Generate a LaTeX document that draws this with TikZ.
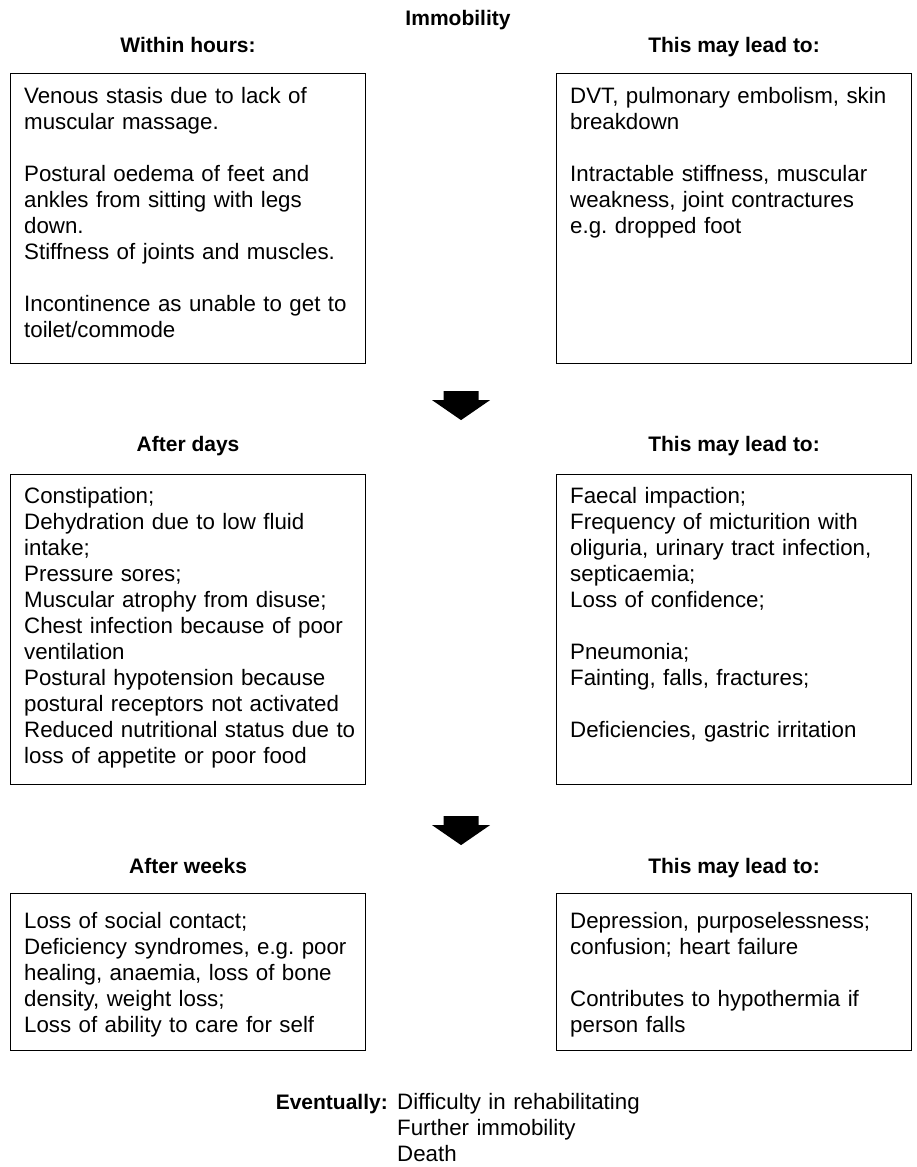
\documentclass[tikz,border=0pt]{standalone}
\usepackage{fontspec}
\setmainfont{Liberation Sans}
\usetikzlibrary{calc}
\frenchspacing

\tikzset{
  panel/.style={draw=black, line width=1.1pt, rectangle, inner sep=0pt,
    anchor=north west, minimum width=355pt},
  paneltext/.style={anchor=base west, inner sep=0pt, text width=345pt,
    align=left, font=\fontsize{22.3}{26}\selectfont\frenchspacing},
  heading/.style={inner sep=0pt, anchor=base,
    font=\fontsize{21}{24}\selectfont\bfseries},
  blockarrow/.pic={
    \fill[black] (-17.5,0) -- (17.5,0) -- (17.5,9) -- (29,9) -- (0,29)
      -- (-29,9) -- (-17.5,9) -- cycle;
  }
}

\begin{document}
\begin{tikzpicture}[x=1pt,y=-1pt]
\useasboundingbox (0,0) rectangle (916,1167);

% title
\node[heading] (hImm) at (458,25) {Immobility};

% ---- row 1: within hours ----
\node[panel, minimum height=290pt] (bHours) at (10,73) {};
\node[panel, minimum height=290pt] (bLeadA) at (556,73) {};
\node[heading] (hHours) at ($(bHours.north)+(0,-21)$) {Within hours:};
\node[heading] (hLeadA) at ($(bLeadA.north)+(0,-21)$) {This may lead to:};
\node[paneltext] (tHours) at ($(bHours.north west)+(14,30)$) {Venous stasis due to lack of\\
muscular massage.\\[26pt]
Postural oedema of feet and\\
ankles from sitting with legs\\
down.\\
Stiffness of joints and muscles.\\[26pt]
Incontinence as unable to get to\\
toilet/commode};
\node[paneltext] (tLeadA) at ($(bLeadA.north west)+(14,30)$) {DVT, pulmonary embolism, skin\\
breakdown\\[26pt]
Intractable stiffness, muscular\\
weakness, joint contractures\\
e.g. dropped foot};

\pic at ($($(bHours.south east)!0.5!(bLeadA.south west)$)+(0,27)$) {blockarrow};

% ---- row 2: after days ----
\node[panel, minimum height=310pt] (bDays) at (10,474) {};
\node[panel, minimum height=310pt] (bLeadB) at (556,474) {};
\node[heading] (hDays) at ($(bDays.north)+(0,-23)$) {After days};
\node[heading] (hLeadB) at ($(bLeadB.north)+(0,-23)$) {This may lead to:};
\node[paneltext] (tDays) at ($(bDays.north west)+(14,29)$) {Constipation;\\
Dehydration due to low fluid\\
intake;\\
Pressure sores;\\
Muscular atrophy from disuse;\\
Chest infection because of poor\\
ventilation\\
Postural hypotension because\\
postural receptors not activated\\
Reduced nutritional status due to\\
loss of appetite or poor food};
\node[paneltext] (tLeadB) at ($(bLeadB.north west)+(14,29)$) {Faecal impaction;\\
Frequency of micturition with\\
oliguria, urinary tract infection,\\
septicaemia;\\
Loss of confidence;\\[26pt]
Pneumonia;\\
Fainting, falls, fractures;\\[26pt]
Deficiencies, gastric irritation};

\pic at ($($(bDays.south east)!0.5!(bLeadB.south west)$)+(0,31)$) {blockarrow};

% ---- row 3: after weeks ----
\node[panel, minimum height=157pt] (bWeeks) at (10,893) {};
\node[panel, minimum height=157pt] (bLeadC) at (556,893) {};
\node[heading] (hWeeks) at ($(bWeeks.north)+(0,-20)$) {After weeks};
\node[heading] (hLeadC) at ($(bLeadC.north)+(0,-20)$) {This may lead to:};
\node[paneltext] (tWeeks) at ($(bWeeks.north west)+(14,35)$) {Loss of social contact;\\
Deficiency syndromes, e.g. poor\\
healing, anaemia, loss of bone\\
density, weight loss;\\
Loss of ability to care for self};
\node[paneltext] (tLeadC) at ($(bLeadC.north west)+(14,35)$) {Depression, purposelessness;\\
confusion; heart failure\\[26pt]
Contributes to hypothermia if\\
person falls};

% ---- outcome ----
\node[heading, anchor=base east] (evLabel) at (388,1109) {Eventually:};
\node[paneltext, text width=300pt] (evText) at (397,1109) {Difficulty in rehabilitating\\
Further immobility\\
Death};
\end{tikzpicture}
\end{document}
